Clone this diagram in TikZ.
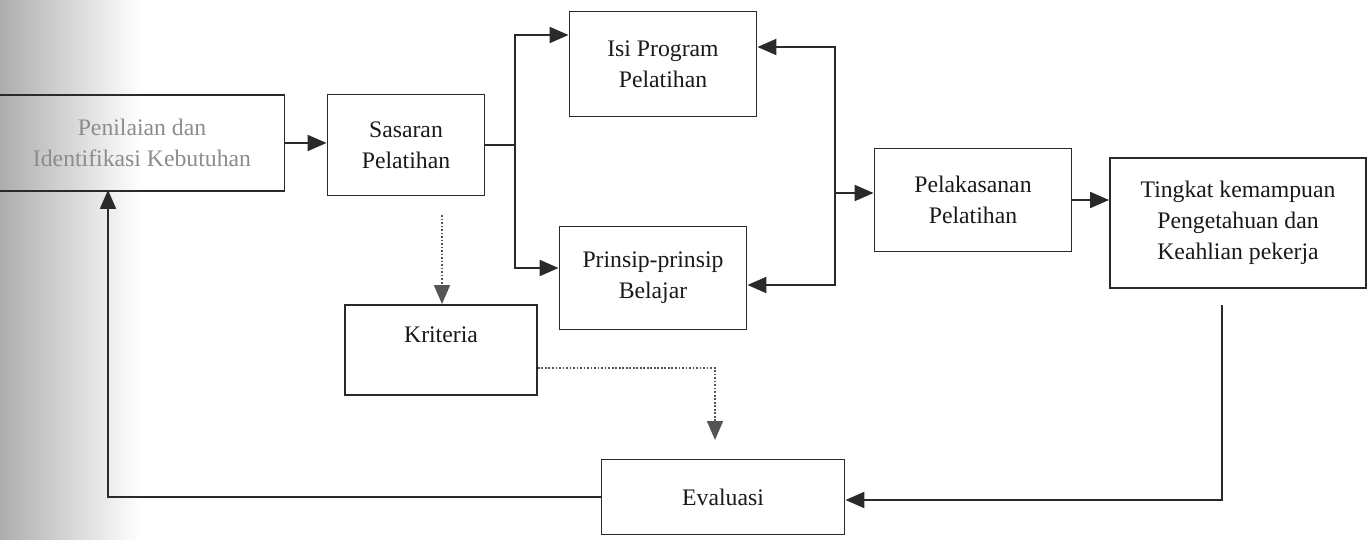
\documentclass[tikz,border=0pt]{standalone}
\usepackage{fontspec}
\setmainfont{Liberation Serif}
\usetikzlibrary{arrows.meta}
\definecolor{ink}{HTML}{2A2A2A}
\tikzset{
  box/.style={draw=ink, line width=1.1pt, align=center, inner sep=2pt,
    font=\fontsize{13.5}{17.5}\selectfont, text=black!90},
  conn/.style={draw=ink, line width=1.2pt},
  arr/.style={conn, -{Triangle[length=0.38cm,width=0.32cm]}},
  darr/.style={draw=ink!80, line width=1pt, densely dotted, -{Triangle[length=0.38cm,width=0.32cm]}}
}
\begin{document}
\begin{tikzpicture}[x=0.02cm,y=-0.02cm]
\useasboundingbox (0,0) rectangle (1370,540);
\shade[left color=black!32, right color=white] (0,0) rectangle (140,540);
% nodes
\node[box, minimum width=5.7cm, minimum height=1.92cm, text=black!45] (pen) at (142,143) {Penilaian dan\\Identifikasi Kebutuhan};
\node[box, minimum width=3.14cm, minimum height=2.02cm] (sas) at (406,145) {Sasaran\\Pelatihan};
\node[box, minimum width=3.74cm, minimum height=2.1cm] (isi) at (663,64) {Isi Program\\Pelatihan};
\node[box, minimum width=3.74cm, minimum height=2.06cm] (pri) at (653,278) {Prinsip-prinsip\\Belajar};
\node[box, minimum width=3.84cm, minimum height=1.8cm] (kri) at (441,350) {Kriteria\\\mbox{}};
\node[box, minimum width=3.94cm, minimum height=2.06cm] (pel) at (973,200) {Pelakasanan\\Pelatihan};
\node[box, minimum width=5.12cm, minimum height=2.6cm] (tin) at (1238,223) {Tingkat kemampuan\\Pengetahuan dan\\Keahlian pekerja};
\node[box, minimum width=4.86cm, minimum height=1.5cm] (eva) at (723,497) {Evaluasi};
% coordinates
\coordinate (bl) at (515,145);
\coordinate (bl1) at (515,35);
\coordinate (bl2) at (515,268);
\coordinate (brm) at (835,193);
\coordinate (br1) at (835,47);
\coordinate (br2) at (835,285);
\coordinate (t1) at (1222,305);
\coordinate (t2) at (1222,500);
\coordinate (pb) at (108,190);
\coordinate (d1) at (442,215);
\coordinate (k1) at (715,368);
\coordinate (k2) at (715,440);
% connectors
\draw[arr] (pen.east) -- (pen.east -| sas.west);
\draw[conn] (sas.east) -- (bl);
\draw[arr] (bl) -- (bl1) -- (isi.west |- bl1);
\draw[arr] (bl) -- (bl2) -- (pri.west |- bl2);
\draw[arr] (brm) -- (br1) -- (isi.east |- br1);
\draw[arr] (brm) -- (br2) -- (pri.east |- br2);
\draw[arr] (brm) -- (pel.west |- brm);
\draw[arr] (pel.east) -- (pel.east -| tin.west);
\draw[arr] (t1) -- (t2) -- (eva.east |- t2);
\draw[arr] (eva.west) -| (pb);
\draw[darr] (d1) -- (d1 |- kri.north);
\draw[darr] (kri.east |- k1) -- (k1) -- (k2);
\end{tikzpicture}
\end{document}
